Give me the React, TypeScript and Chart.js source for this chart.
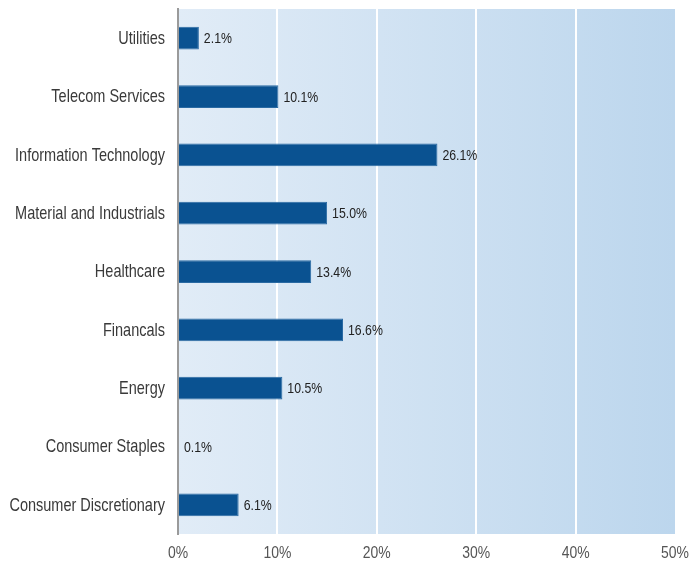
import React, { useEffect, useRef } from "react";
import { Chart, registerables } from "chart.js";

Chart.register(...registerables);

const categories = [
  "Utilities",
  "Telecom Services",
  "Information Technology",
  "Material and Industrials",
  "Healthcare",
  "Financals",
  "Energy",
  "Consumer Staples",
  "Consumer Discretionary",
];
const values = [2.1, 10.1, 26.1, 15.0, 13.4, 16.6, 10.5, 0.1, 6.1];
const xTicks = [0, 10, 20, 30, 40, 50];

const FONT = "'Liberation Sans', Arial, sans-serif";
const SX = 0.82;

function drawNarrow(ctx: any, text: string, x: number, y: number, size: number, color: string, align: string) {
  ctx.save();
  ctx.font = size + "px " + FONT;
  ctx.fillStyle = color;
  ctx.textBaseline = "middle";
  ctx.textAlign = align;
  ctx.translate(x, y);
  ctx.scale(SX, 1);
  ctx.fillText(text, 0, 0);
  ctx.restore();
}

const bgPlugin = {
  id: "bgGradient",
  beforeDraw(chart: any) {
    const { ctx, chartArea } = chart;
    if (!chartArea) return;
    const g = ctx.createLinearGradient(chartArea.left, 0, chartArea.right, 0);
    g.addColorStop(0, "#e1ecf7");
    g.addColorStop(1, "#bcd6ed");
    ctx.save();
    ctx.fillStyle = g;
    ctx.fillRect(chartArea.left, chartArea.top, chartArea.right - chartArea.left, chartArea.bottom - chartArea.top);
    ctx.restore();
  },
};

const labelPlugin = {
  id: "textLabels",
  afterDraw(chart: any) {
    const { ctx, chartArea } = chart;
    const meta = chart.getDatasetMeta(0);
    const xs = chart.scales.x;
    const ys = chart.scales.y;
    meta.data.forEach((bar: any, i: number) => {
      drawNarrow(ctx, values[i].toFixed(1) + "%", bar.x + 5, bar.y + 1, 15, "#222", "left");
    });
    categories.forEach((c, i) => {
      drawNarrow(ctx, c, chartArea.left - 13, ys.getPixelForValue(i) + 1, 17.7, "#3a3a3a", "right");
    });
    xTicks.forEach((v) => {
      drawNarrow(ctx, v + "%", xs.getPixelForValue(v), chartArea.bottom + 19, 17, "#555", "center");
    });
  },
};

export default function App() {
  const ref = useRef<HTMLCanvasElement>(null);
  useEffect(() => {
    if (!ref.current) return;
    const chart = new Chart(ref.current, {
      type: "bar",
      data: {
        labels: categories,
        datasets: [
          {
            data: values,
            backgroundColor: "#0a5291",
            borderColor: "#2a6aa3",
            borderWidth: 1,
            categoryPercentage: 1,
            barPercentage: 0.39,
          },
        ],
      },
      options: {
        indexAxis: "y",
        animation: false,
        responsive: false,
        maintainAspectRatio: false,
        layout: { padding: { top: 9, right: 16, left: 0, bottom: 0 } },
        plugins: { legend: { display: false }, tooltip: { enabled: false } },
        scales: {
          x: {
            min: 0,
            max: 50,
            afterBuildTicks(scale: any) {
              scale.ticks = xTicks.map((v) => ({ value: v }));
            },
            afterFit(scale: any) {
              scale.height = 31;
              scale.paddingLeft = 0;
              scale.paddingRight = 0;
            },
            grid: {
              color: (c: any) => (c.tick && c.tick.value > 0 && c.tick.value < 50 ? "#ffffff" : "rgba(0,0,0,0)"),
              lineWidth: 2,
              drawTicks: false,
            },
            border: { display: false },
            ticks: { display: false },
          },
          y: {
            afterFit(scale: any) {
              scale.width = 178;
              scale.paddingTop = 0;
              scale.paddingBottom = 0;
            },
            grid: { display: false, drawTicks: false },
            border: { display: true, color: "#9a9a9a", width: 2 },
            ticks: { display: false },
          },
        },
      },
      plugins: [bgPlugin, labelPlugin],
    });
    return () => chart.destroy();
  }, []);
  return (
    <div style={{ position: "absolute", left: 0, top: 0, width: 691, height: 565, background: "#fff" }}>
      <canvas ref={ref} width={691} height={565} style={{ width: 691, height: 565 }} />
    </div>
  );
}
